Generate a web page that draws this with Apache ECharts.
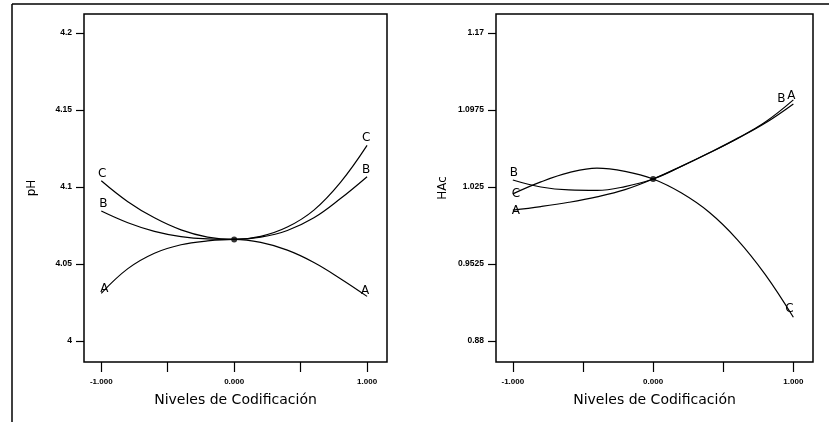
<!DOCTYPE html>
<html>
<head>
<meta charset="utf-8">
<script src="https://cdn.jsdelivr.net/npm/echarts@6/dist/echarts.min.js"></script>
<style>
  html, body { margin: 0; padding: 0; background: #fff; }
  #chart { width: 829px; height: 422px; }
</style>
</head>
<body>
<div id="chart"></div>
<script>
// niveles codificados (eje x)
const xLevels = [-1, -0.8, -0.6, -0.4, -0.2, 0, 0.2, 0.4, 0.6, 0.8, 1];

// pH
const phA = [4.031, 4.047, 4.057, 4.0625, 4.065, 4.066, 4.064, 4.059, 4.051, 4.0405, 4.029];
const phB = [4.0844, 4.0768, 4.0712, 4.0678, 4.0663, 4.066, 4.0675, 4.0718, 4.080, 4.0925, 4.1067];
const phC = [4.1041, 4.0905, 4.080, 4.0722, 4.0675, 4.066, 4.068, 4.074, 4.085, 4.103, 4.127];
const phCenter = 4.066;

// HAc
const hacA = [1.0033, 1.0066, 1.0106, 1.0157, 1.0225, 1.0325, 1.0444, 1.0572, 1.0708, 1.0862, 1.107];
const hacB = [1.0316, 1.025, 1.0222, 1.0218, 1.0254, 1.0325, 1.0443, 1.057, 1.0705, 1.0852, 1.1032];
const hacC = [1.0185, 1.0298, 1.0385, 1.0428, 1.0397, 1.0325, 1.0195, 1.0012, 0.9755, 0.9425, 0.9023];
const hacCenter = 1.0325;

// ticks
const xTicks = [-1, -0.5, 0, 0.5, 1];
const xTickLabels = [-1, 0, 1];
const phTicks = [4, 4.05, 4.1, 4.15, 4.2];
const hacTicks = [0.88, 0.9525, 1.025, 1.0975, 1.17];

const chart = echarts.init(document.getElementById('chart'));

const labelFont = { fontFamily: 'DejaVu Sans', fontSize: 12, color: '#000' };

// curva con letras en los extremos
function curve(name, values, gi, startOff, endOff) {
  const last = values.length - 1;
  return {
    name: name,
    type: 'line',
    xAxisIndex: gi,
    yAxisIndex: gi,
    smooth: 0.4,
    symbol: 'circle',
    symbolSize: 0.1,
    showSymbol: true,
    lineStyle: { color: '#000', width: 1.2 },
    itemStyle: { color: '#000' },
    data: values.map((v, i) => {
      const item = { value: [xLevels[i], v] };
      if (i === 0 || i === last) {
        item.label = Object.assign({
          show: true,
          position: 'top',
          distance: 1,
          formatter: name,
          offset: i === 0 ? startOff : endOff
        }, labelFont);
      }
      return item;
    }),
    z: 3
  };
}

function centerDot(v, gi) {
  return {
    type: 'scatter',
    xAxisIndex: gi,
    yAxisIndex: gi,
    symbolSize: 6,
    itemStyle: { color: '#000' },
    data: [[0, v]],
    z: 4
  };
}

function xAxis(gi, min, max) {
  return {
    type: 'value',
    gridIndex: gi,
    min: min,
    max: max,
    name: 'Niveles de Codificación',
    nameLocation: 'middle',
    nameGap: 31,
    nameTextStyle: { fontFamily: 'DejaVu Sans', fontSize: 14, color: '#000' },
    splitLine: { show: false },
    axisLine: { show: false, onZero: false },
    axisTick: { show: true, length: 10, inside: false, customValues: xTicks, lineStyle: { color: '#000', width: 1.2 } },
    axisLabel: {
      customValues: xTickLabels,
      margin: 16,
      fontFamily: 'Liberation Sans',
      fontSize: 8,
      fontWeight: 'bold',
      color: '#000',
      formatter: v => v.toFixed(3)
    }
  };
}

function yAxis(gi, min, max, ticks, name, gap) {
  return {
    type: 'value',
    gridIndex: gi,
    min: min,
    max: max,
    name: name,
    nameLocation: 'middle',
    nameGap: gap,
    nameRotate: 90,
    nameTextStyle: { fontFamily: 'DejaVu Sans', fontSize: 12, color: '#000' },
    splitLine: { show: false },
    axisLine: { show: false, onZero: false },
    axisTick: { show: true, length: 8, customValues: ticks, lineStyle: { color: '#000', width: 1.2 } },
    axisLabel: {
      customValues: ticks,
      margin: 12,
      fontFamily: 'Liberation Sans',
      fontSize: 8.5,
      fontWeight: 'bold',
      color: '#000'
    }
  };
}

const option = {
  backgroundColor: '#fff',
  animation: false,
  graphic: [
    { type: 'line', shape: { x1: 12, y1: 4, x2: 829, y2: 4 }, style: { stroke: '#000', lineWidth: 1.5 } },
    { type: 'line', shape: { x1: 12, y1: 4, x2: 12, y2: 422 }, style: { stroke: '#000', lineWidth: 1.5 } }
  ],
  grid: [
    { left: 84, top: 14, width: 303, height: 348, show: true, borderColor: '#000', borderWidth: 1.5, backgroundColor: 'transparent' },
    { left: 496, top: 14, width: 317, height: 348, show: true, borderColor: '#000', borderWidth: 1.5, backgroundColor: 'transparent' }
  ],
  xAxis: [xAxis(0, -1.13, 1.15), xAxis(1, -1.12, 1.14)],
  yAxis: [
    yAxis(0, 3.9864, 4.2123, phTicks, 'pH', 46),
    yAxis(1, 0.8602, 1.1879, hacTicks, 'HAc', 47)
  ],
  series: [
    curve('A', phA, 0, [3, 3], [-2, 2]),
    curve('B', phB, 0, [2, 0], [-1, 0]),
    curve('C', phC, 0, [1, 0], [-1, 0]),
    centerDot(phCenter, 0),
    curve('A', hacA, 1, [3, 8], [-2, 3]),
    curve('B', hacB, 1, [1, 0], [-12, 2]),
    curve('C', hacC, 1, [3, 7], [-4, -1]),
    centerDot(hacCenter, 1)
  ]
};

chart.setOption(option);
</script>
</body>
</html>
